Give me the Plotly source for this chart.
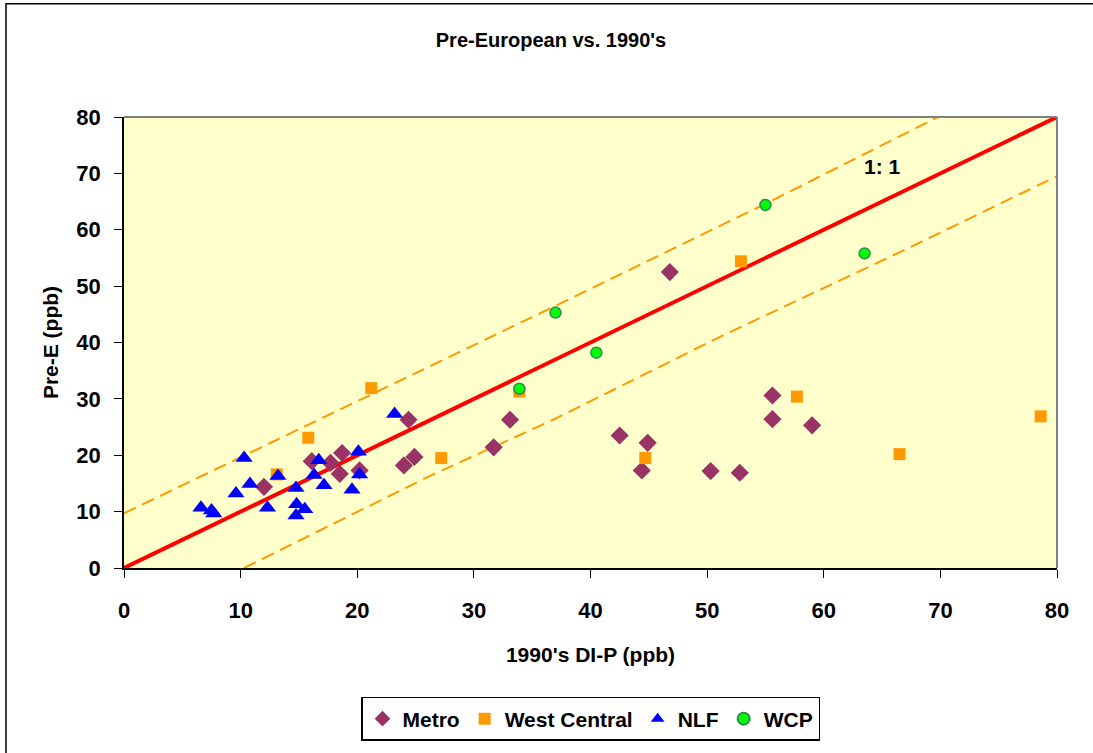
import plotly.graph_objects as go

# ---- data ----
metro_x = [12.0, 16.1, 17.7, 18.5, 18.7, 20.2, 24.0, 24.4, 24.9, 31.7,
           33.1, 42.5, 44.4, 44.9, 46.8, 50.3, 52.8, 55.6, 55.6, 59.0]
metro_y = [14.4, 18.95, 18.65, 16.7, 20.4, 17.3, 18.2, 26.3, 19.7, 21.4,
           26.3, 23.5, 17.3, 22.2, 52.5, 17.2, 16.9, 30.6, 26.4, 25.3]

wc_x = [13.1, 15.8, 21.2, 27.2, 33.9, 44.7, 52.9, 57.7, 66.5, 78.6]
wc_y = [16.6, 23.1, 31.9, 19.5, 31.3, 19.5, 54.4, 30.4, 20.2, 26.9]

nlf_x = [6.6, 7.5, 7.7, 9.6, 10.3, 10.8, 12.3, 13.2, 14.75, 14.8,
         15.5, 14.75, 16.3, 16.7, 17.15, 19.55, 20.1, 20.2, 23.2]
nlf_y = [10.7, 10.2, 9.65, 13.2, 19.5, 14.9, 10.7, 16.3, 14.2, 11.3,
         10.4, 9.3, 16.5, 19.1, 14.7, 13.9, 20.6, 16.6, 27.3]

wcp_x = [33.9, 37.0, 40.5, 55.0, 63.5]
wcp_y = [31.8, 45.3, 38.2, 64.4, 55.8]

one_x = [0, 80]
one_y = [0, 80]

upper_x = [0, 20, 37, 55, 69.8]
upper_y = [9.7, 29.6, 46.5, 64.6, 80]
lower_x = [10.3, 26.2, 36.8, 50.8, 66.5, 80]
lower_y = [0, 16.3, 26.3, 40.7, 56.0, 69.5]

x_ticks = [0, 10, 20, 30, 40, 50, 60, 70, 80]
y_ticks = [0, 10, 20, 30, 40, 50, 60, 70, 80]

title_text = "Pre-European vs. 1990's"
x_title = "1990's DI-P (ppb)"
y_title = "Pre-E (ppb)"
series_names = ["Metro", "West Central", "NLF", "WCP"]
ratio_label = "1: 1"

# ---- figure ----
W, H = 1093, 753
L, R, T, B = 124, 36, 117, 182
FONT = "Liberation Sans, Arial, sans-serif"

fig = go.Figure()

fig.add_trace(go.Scatter(x=upper_x, y=upper_y, mode="lines", showlegend=False,
                         line=dict(color="#FF9900", width=2, dash="13px,7px"),
                         hoverinfo="skip"))
fig.add_trace(go.Scatter(x=lower_x, y=lower_y, mode="lines", showlegend=False,
                         line=dict(color="#FF9900", width=2, dash="13px,7px"),
                         hoverinfo="skip"))
fig.add_trace(go.Scatter(x=one_x, y=one_y, mode="lines", showlegend=False,
                         line=dict(color="#FF0000", width=4), hoverinfo="skip"))

fig.add_trace(go.Scatter(x=metro_x, y=metro_y, mode="markers", name=series_names[0],
                         marker=dict(symbol="diamond", size=14, color="#993366",
                                     line=dict(width=0))))
fig.add_trace(go.Scatter(x=wc_x, y=wc_y, mode="markers", name=series_names[1],
                         marker=dict(symbol="square", size=12, color="#FF9900",
                                     line=dict(width=0))))
fig.add_trace(go.Scatter(x=nlf_x, y=nlf_y, mode="markers", name=series_names[2],
                         marker=dict(symbol="triangle-up", size=15, color="#0000FF",
                                     line=dict(width=0))))
fig.add_trace(go.Scatter(x=wcp_x, y=wcp_y, mode="markers", name=series_names[3],
                         marker=dict(symbol="circle", size=11, color="#00FF00",
                                     line=dict(width=1.5, color="#2E8B57"))))

pw, ph = W - L - R, H - T - B
def px2paper_x(px):
    return (px - L) / pw
def px2paper_y(py):
    return (H - B - py) / ph

shapes = [
    dict(type="line", xref="paper", yref="paper", x0=0, x1=1, y0=1, y1=1,
         line=dict(color="#808080", width=2), layer="above"),
    dict(type="line", xref="paper", yref="paper", x0=1, x1=1, y0=0, y1=1,
         line=dict(color="#808080", width=2), layer="above"),
    dict(type="rect", xref="paper", yref="paper",
         x0=px2paper_x(6), x1=px2paper_x(W + 5), y0=px2paper_y(H + 5), y1=px2paper_y(3),
         line=dict(color="#000000", width=1.5), fillcolor="rgba(0,0,0,0)", layer="below"),
]

axis_common = dict(range=[0, 80], showgrid=False, zeroline=False, showline=True,
                   linecolor="#000000", linewidth=1.5, ticks="outside", ticklen=8,
                   tickcolor="#000000", tickwidth=1,
                   tickfont=dict(family=FONT, size=22, color="#000000", weight="bold"))

fig.update_layout(
    width=W, height=H,
    margin=dict(l=L, r=R, t=T, b=B),
    paper_bgcolor="#FFFFFF",
    plot_bgcolor="#FFFFCC",
    title=dict(text=title_text, x=551 / W, xanchor="center", y=1 - 40 / H, yanchor="middle",
               font=dict(family=FONT, size=20, color="#000000", weight="bold")),
    xaxis=dict(**axis_common, tickvals=x_ticks, ticklabelstandoff=14,
               title=dict(text=x_title, standoff=25,
                          font=dict(family=FONT, size=21, color="#000000", weight="bold"))),
    yaxis=dict(**axis_common, tickvals=y_ticks, ticklabelstandoff=9,
               title=dict(text=y_title, standoff=12,
                          font=dict(family=FONT, size=21, color="#000000", weight="bold"))),
    legend=dict(orientation="h", x=0.5, xanchor="center", y=px2paper_y(723), yanchor="middle",
                bgcolor="#FFFFFF", bordercolor="#000000", borderwidth=1.5,
                font=dict(family=FONT, size=21, color="#000000", weight="bold"),
                itemsizing="constant", itemwidth=30, tracegroupgap=0),
    shapes=shapes,
    annotations=[dict(x=65, y=71.3, xref="x", yref="y", text=ratio_label, showarrow=False,
                      font=dict(family=FONT, size=21, color="#000000", weight="bold"))],
    showlegend=True,
)

fig.write_html("out.html")
